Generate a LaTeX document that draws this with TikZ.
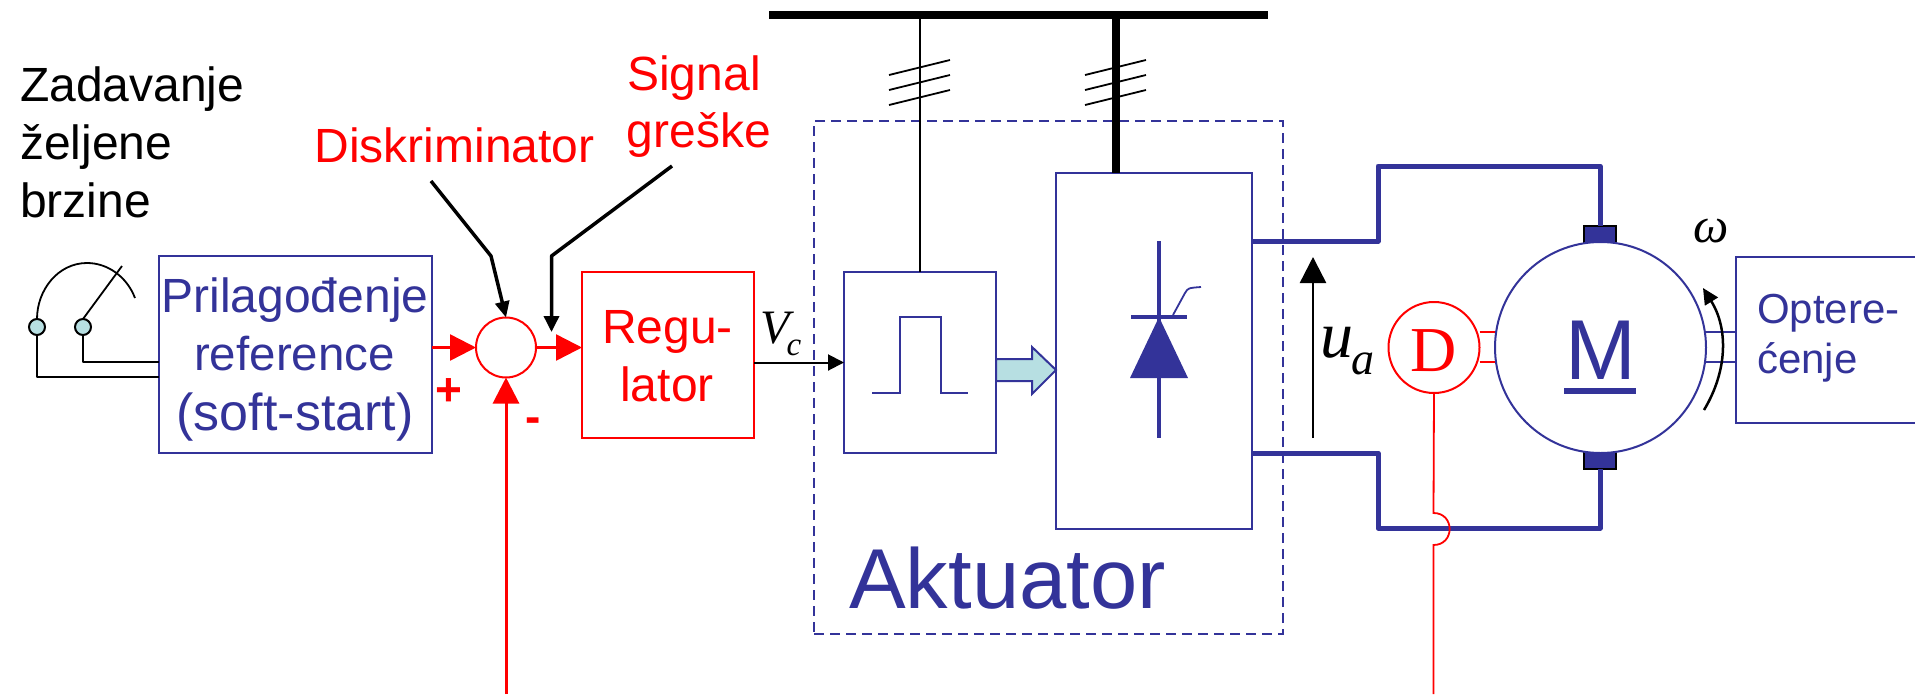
\documentclass[tikz,border=0pt]{standalone}
\usepackage{fontspec}
\setmainfont{Liberation Sans}
\newfontfamily\serifit[ItalicFont=Liberation Serif Italic]{Liberation Serif}
\usetikzlibrary{arrows.meta}
\definecolor{navy}{HTML}{333399}
\definecolor{teal}{HTML}{B7DFE2}
\definecolor{rd}{HTML}{FF0000}
\newcommand{\fs}[1]{\fontsize{#1}{#1}\selectfont}
\tikzset{
  every node/.style={inner sep=0pt,outer sep=0pt},
  bluebox/.style={draw=navy,line width=2pt},
  redbox/.style={draw=rd,line width=2pt},
  txt/.style={font=\fs{48},anchor=base},
  wire/.style={black,line width=2pt,line join=round},
  feeder/.style={navy,line width=5pt,line join=round},
  redarrow/.style={rd,line width=2.5pt,-{Triangle[length=26pt,width=26pt]}},
  callout/.style={black,line width=3.5pt,line join=round,-{Triangle[length=16pt,width=15pt]}},
  tick/.style={black,line width=1.8pt},
  brush/.style={draw=black,line width=1.5pt,fill=navy,minimum width=32pt},
  thinblue/.style={navy,line width=1.5pt},
  thinred/.style={rd,line width=1.8pt},
}
\begin{document}
\begin{tikzpicture}[x=1pt,y=-1pt]
\useasboundingbox (0,0) rectangle (1915,694);
% dashed actuator frame
\node[draw=navy,line width=2pt,dash pattern=on 10pt off 6pt,minimum width=469pt,minimum height=513pt] (akt) at (1048.5,377.5) {};
% labels
\node[txt,anchor=base west] (zad) at (20,101) {Zadavanje};
\node[txt,anchor=base west] (zel) at (20,159) {željene};
\node[txt,anchor=base west] (brz) at (20,217) {brzine};
\node[txt,text=rd] (dis) at (454.5,162) {Diskriminator};
\node[txt,text=rd] (sig) at (694,90) {Signal};
\node[txt,text=rd] (gre) at (699,147) {greške};
% blocks
\node[bluebox,minimum width=273pt,minimum height=197pt] (ref) at (295,354.5) {};
\node[txt,text=navy] (pr1) at (295,312) {Prilagođenje};
\node[txt,text=navy,font=\fs{47.5}] (pr2) at (294.5,370) {reference};
\node[txt,text=navy,font=\fs{52}] (pr3) at (295,430) {(soft-start)};
\node[redbox,minimum width=172pt,minimum height=166pt] (reg) at (668,355) {};
\node[txt,text=rd] (re1) at (667.5,343) {Regu-};
\node[txt,text=rd] (re2) at (667,401) {lator};
\node[draw=rd,line width=2pt,circle,minimum size=60pt] (sum) at (506,347.5) {};
\node[bluebox,minimum width=152pt,minimum height=181pt] (pwm) at (920,362.5) {};
\node[bluebox,minimum width=196pt,minimum height=356pt] (conv) at (1154,351) {};
\node[text=navy,font=\fs{85},anchor=base] (aktl) at (1007.5,608) {Aktuator};
\node[brush,minimum height=24pt] (bt) at (1600,238) {};
\node[brush,minimum height=24pt] (bb) at (1600,457) {};
\node[draw=navy,line width=2pt,fill=white,circle,minimum size=211pt] (mot) at (1600.5,347.5) {};
\node[text=navy,font=\fs{85},anchor=base] (ml) at (1601,379) {M};
\node[fill=navy,minimum width=72pt,minimum height=6pt] (mu) at (1600,391) {};
\node[draw=rd,line width=2pt,fill=white,circle,minimum size=91pt] (dyn) at (1434,347.5) {};
\node[text=rd,font=\serifit\fs{64},anchor=base] (dl) at (1433.5,371) {D};
\node[bluebox,minimum width=200pt,minimum height=166pt] (load) at (1836,340) {};
\node[anchor=base west,text=navy,font=\fs{42}] (lo1) at (1757,323) {Optere-};
\node[anchor=base west,text=navy,font=\fs{42}] (lo2) at (1757,373) {ćenje};
% bus
\node[fill=black,minimum width=499pt,minimum height=8pt] (bus) at (1018.5,15) {};
\coordinate (tl) at (920,82.5);
\coordinate (tr) at (1116,82.5);
\foreach \c in {tl,tr}{
  \foreach \d in {-15,0,15}{
    \draw[tick] ([shift={(-31,7.5+\d)}]\c) -- ([shift={(30,-7.5+\d)}]\c);
  }
}
\draw[wire] (pwm.north |- bus.south) -- (pwm.north);
\draw[black,line width=8pt] (bus.south -| 1116,0) -- (conv.north -| 1116,0);
% switch
\node[draw=black,line width=2pt,fill=teal,circle,minimum size=16pt] (s1) at (37,327) {};
\node[draw=black,line width=2pt,fill=teal,circle,minimum size=16pt] (s2) at (83,327) {};
\draw[wire,line width=1.8pt] (s1.north) .. controls (37,290) and (58,263) .. (87,263) .. controls (108,263) and (127,277) .. (135,298);
\draw[wire,line width=1.8pt] (s2.north) -- (122,266);
\draw[wire] (s1.south) |- (ref.west |- 0,377);
\draw[wire] (s2.south) |- (ref.west |- 0,362);
% signal path
\draw[redarrow] (ref.east |- sum.west) -- (sum.west);
\draw[redarrow] (sum.east) -- (reg.west |- sum.east);
\coordinate (fbend) at (506,694);
\draw[redarrow,line width=3pt] (fbend) -- (sum.south);
\node[text=rd,font=\bfseries\fs{46}] (plus) at (449,392) {+};
\node[text=rd,font=\bfseries\fs{46},anchor=base] (minus) at (533,432) {-};
\coordinate (dstart) at (431,181);
\coordinate (sstart) at (672,166);
\draw[callout,-{Triangle[length=16pt,width=14pt]}] (dstart) -- (491,256) -- (sum.north);
\draw[callout] (sstart) -- (551.5,256) -- (551.5,332);
\draw[wire,-{Triangle[length=16pt,width=16pt]}] (reg.east |- 0,362.5) -- (pwm.west |- 0,362.5);
\node[font=\serifit\itshape\fs{48},anchor=base] (vc) at (775,343) {V};
\node[font=\serifit\itshape\fs{33},anchor=base] (vcs) at (794,355) {c};
% pulse
\draw[navy,line width=2pt,line join=miter] (872,393) -- (900,393) -- (900,317) -- (941,317) -- (941,393) -- (968,393);
% block arrow
\draw[draw=navy,line width=2pt,fill=teal,line join=miter] (pwm.east |- 0,359) -- (1032,359) -- (1032,347) -- (conv.west |- 0,370) -- (1032,394) -- (1032,381) -- (pwm.east |- 0,381) -- cycle;
% thyristor
\draw[navy,line width=4pt] (1159,241) -- (1159,438);
\draw[navy,line width=4pt] (1131,317) -- (1187,317);
\fill[navy] (1159,317) -- (1188,378) -- (1130,378) -- cycle;
\draw[navy,line width=1.8pt] (1173,315) -- (1185,293) .. controls (1188,288) .. (1201,287);
% motor feeders
\draw[feeder] (conv.east |- 0,241) -- (1378,241) -- (1378,166) -- (1600,166) -- (bt.north);
\draw[feeder] (conv.east |- 0,453) -- (1378,453) -- (1378,528) -- (1600,528) -- (bb.south);
% voltage arrow
\coordinate (ua0) at (1313,438);
\coordinate (ua1) at (1313,257);
\draw[black,line width=2.5pt,-{Triangle[length=26pt,width=26pt]}] (ua0) -- (ua1);
\node[font=\serifit\itshape\fs{66},anchor=base] (ul) at (1337,357) {u};
\node[font=\serifit\itshape\fs{46},anchor=base] (al) at (1363,374) {a};
% tachometer
\draw[thinred] (dyn.east |- 0,332) -- (mot.west |- 0,332);
\draw[thinred] (dyn.east |- 0,362) -- (mot.west |- 0,362);
\coordinate (fb) at (1433.5,694);
\draw[thinred] (dyn.south) -- (1433.5,513) .. controls (1455,513) and (1455,545) .. (1433.5,545) -- (fb);
% shaft
\draw[thinblue] (1706,332) -- (load.west |- 0,332);
\draw[thinblue] (1706,362) -- (load.west |- 0,362);
\coordinate (w0) at (1704,410);
\coordinate (w1) at (1703,288);
\draw[black,line width=2.5pt,-{Triangle[length=16pt,width=15pt]}] (w0) .. controls (1728,370) and (1728,328) .. (w1);
\node[font=\serifit\itshape\fs{50},anchor=base] (om) at (1711,242) {\char"03C9};
\end{tikzpicture}
\end{document}
